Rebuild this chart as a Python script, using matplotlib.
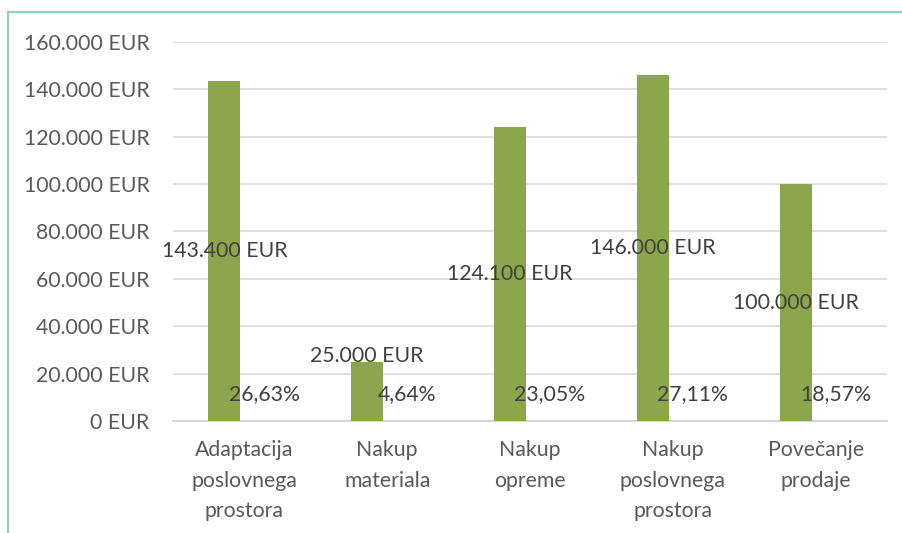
import matplotlib
matplotlib.use("Agg")
import matplotlib.pyplot as plt
from matplotlib.lines import Line2D
from matplotlib.ticker import FuncFormatter

kategorije = ["Adaptacija\nposlovnega\nprostora", "Nakup\nmateriala", "Nakup\nopreme",
              "Nakup\nposlovnega\nprostora", "Povečanje\nprodaje"]
zneski = [143400, 25000, 124100, 146000, 100000]
deleži = [26.63, 4.64, 23.05, 27.11, 18.57]

plt.rcParams['font.family'] = ['Lato', 'DejaVu Sans']

fig = plt.figure(figsize=(9.03, 5.33), dpi=100)
ax = fig.add_axes([173/903, 1 - 421/533, 714/903, 379/533])

x = list(range(len(kategorije)))
sirina = 0.224
odmik = 0.14
ax.bar([i - odmik for i in x], zneski, width=sirina, color="#8BA64C", zorder=3)
ax.bar([i + odmik for i in x], [d / 100 for d in deleži], width=sirina, color="#8BA64C", zorder=3)

# oznake vrednosti
def eur(v):
    return f"{v:,.0f}".replace(",", ".") + " EUR"

for i, v in enumerate(zneski):
    y = v / 2 if v > 50000 else v * 1.1
    ax.text(i - odmik, y, eur(v), ha="center", va="center", fontsize=15.3, color="#404040", zorder=4)
for i, d in enumerate(deleži):
    ax.text(i + odmik, 11400, f"{d:.2f}%".replace(".", ","), ha="center", va="center",
            fontsize=15.3, color="#404040", zorder=4)

ax.set_xlim(-0.5, len(kategorije) - 0.5)
ax.set_ylim(0, 160000)
ax.set_yticks(range(0, 160001, 20000))
ax.yaxis.set_major_formatter(FuncFormatter(lambda v, p: eur(v)))
ax.set_xticks(x)
ax.set_xticklabels(kategorije, linespacing=1.65)
ax.tick_params(axis="both", length=0, labelsize=15.3, labelcolor="#595959")
ax.tick_params(axis="y", pad=17)
ax.tick_params(axis="x", pad=14)
ax.grid(axis="y", color="#D9D9D9", linewidth=1.2, zorder=0)
for s in ["top", "right", "left"]:
    ax.spines[s].set_visible(False)
ax.spines["bottom"].set_color("#D0D0D0")
ax.spines["bottom"].set_linewidth(1.2)

# zeleni okvir
fig.add_artist(Line2D([8/903, 8/903], [0, 1 - 12/533], color="#6FD39C", linewidth=1.2))
fig.add_artist(Line2D([8/903, 1], [1 - 12/533, 1 - 12/533], color="#6FD39C", linewidth=1.2))

fig.savefig("out.png", dpi=100)
